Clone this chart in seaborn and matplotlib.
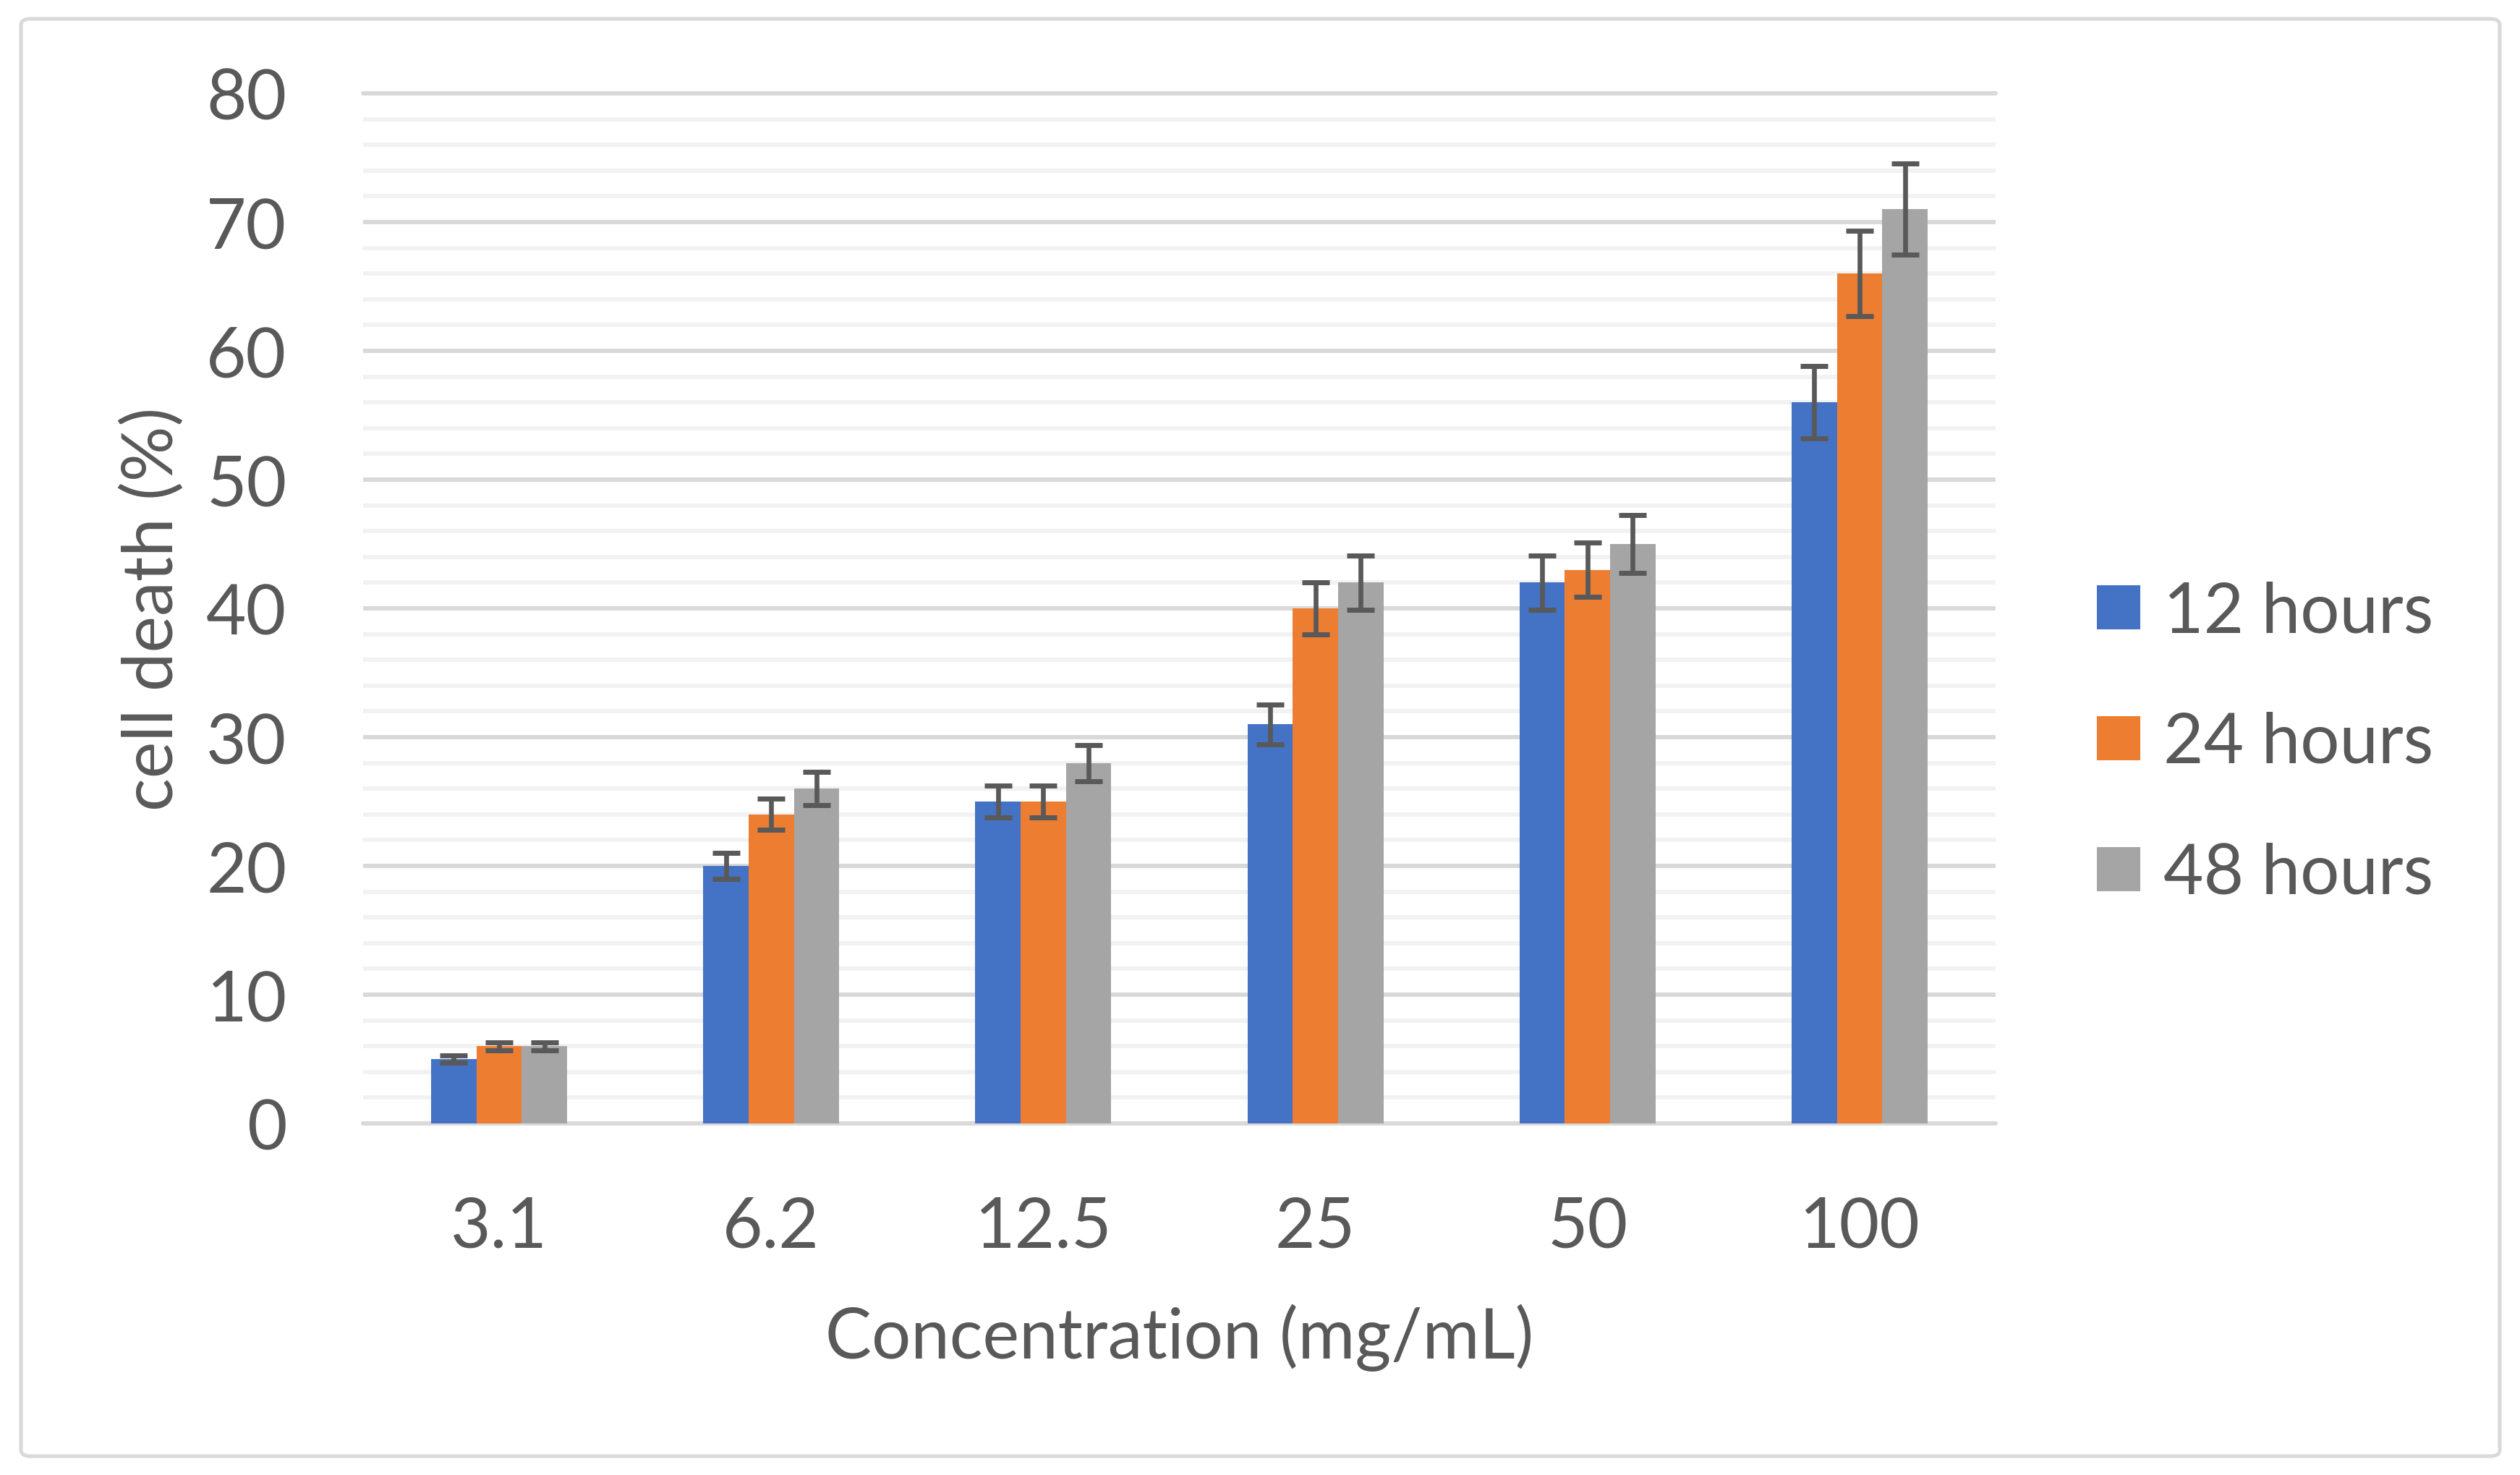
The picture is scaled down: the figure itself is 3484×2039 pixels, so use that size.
import numpy as np
import pandas as pd
import matplotlib
matplotlib.use("Agg")
import matplotlib.pyplot as plt
import seaborn as sns
from matplotlib.patches import FancyBboxPatch
from matplotlib.ticker import MultipleLocator

# ---- data ----
concentrations = ["3.1", "6.2", "12.5", "25", "50", "100"]
series_names = ["12 hours", "24 hours", "48 hours"]
h12 = [5, 20, 25, 31, 42, 56]
h24 = [6, 24, 25, 40, 43, 66]
h48 = [6, 26, 28, 42, 45, 71]
err12 = [0.3, 1.0, 1.25, 1.55, 2.1, 2.8]
err24 = [0.3, 1.2, 1.25, 2.0, 2.1, 3.3]
err48 = [0.3, 1.3, 1.4, 2.1, 2.25, 3.55]
colors = ["#4472C4", "#ED7D31", "#A5A5A5"]

values = [h12, h24, h48]
errors = [err12, err24, err48]

df = pd.DataFrame({
    "Concentration": concentrations * 3,
    "Series": [s for s in series_names for _ in concentrations],
    "Value": h12 + h24 + h48,
})

sns.set_theme(style="white")
plt.rcParams["font.family"] = ["Lato", "DejaVu Sans"]
text_color = "#595959"
fs = 69

fig = plt.figure(figsize=(34.84, 20.40), dpi=100)
W, H = 3484, 2040
ax = fig.add_axes([502 / W, 1 - 1554 / H, (2759 - 502) / W, (1554 - 130) / H])

sns.barplot(data=df, x="Concentration", y="Value", hue="Series",
            order=concentrations, hue_order=series_names,
            palette=colors, width=0.5, gap=0, saturation=1,
            errorbar=None, ax=ax, zorder=3, linewidth=0)

# error bars from bar positions
for cont, errs in zip(ax.containers, errors):
    xs = [b.get_x() + b.get_width() / 2 for b in cont]
    ys = [b.get_height() for b in cont]
    ax.errorbar(xs, ys, yerr=errs, fmt="none", ecolor="#595959",
                elinewidth=4.8, capsize=14, capthick=5.0, zorder=4)

ax.set_ylim(0, 80)
ax.set_xlim(-0.5, len(concentrations) - 0.5)
ax.yaxis.set_major_locator(MultipleLocator(10))
ax.yaxis.set_minor_locator(MultipleLocator(2))
ax.grid(which="minor", axis="y", color="#F2F2F2", linewidth=4.3, zorder=0)
ax.grid(which="major", axis="y", color="#D9D9D9", linewidth=4.3, zorder=1)
ax.axhline(0, color="#D9D9D9", linewidth=4.3, clip_on=False, zorder=1)
ax.axhline(80, color="#D9D9D9", linewidth=4.3, clip_on=False, zorder=1)
ax.set_axisbelow(True)
for s in ax.spines.values():
    s.set_visible(False)

ax.tick_params(axis="y", which="both", length=0, pad=76, labelsize=fs, labelcolor=text_color)
ax.tick_params(axis="x", which="both", length=0, pad=72, labelsize=fs, labelcolor=text_color)
ax.set_yticks(range(0, 81, 10))

ax.set_ylabel("cell death (%)", fontsize=fs, color=text_color)
ax.set_xlabel("Concentration (mg/mL)", fontsize=fs, color=text_color)
ax.yaxis.label.set_verticalalignment("center")
ax.xaxis.label.set_verticalalignment("center")
ax.yaxis.set_label_coords((211 - 502) / (2759 - 502), 0.5)
ax.xaxis.set_label_coords(0.5, -(1849 - 1554) / (1554 - 130))

handles, labels = ax.get_legend_handles_labels()
leg = fig.legend(handles, labels, loc="center left",
                 bbox_to_anchor=(2899 / W, 1 - 1028 / H),
                 frameon=False, fontsize=fs, handlelength=0.63,
                 handleheight=0.6, handletextpad=0.33, labelspacing=0.97,
                 borderpad=0, borderaxespad=0)
for t in leg.get_texts():
    t.set_color(text_color)
if ax.get_legend() is not None:
    ax.get_legend().remove()

border = FancyBboxPatch((29 / W, 1 - 2014 / H), (3456 - 29) / W, (2014 - 27) / H,
                        boxstyle="round,pad=0,rounding_size=0.004",
                        transform=fig.transFigure, facecolor="none",
                        edgecolor="#D9D9D9", linewidth=3.6)
fig.patches.append(border)

fig.savefig("out.png", dpi=100, facecolor="white")
